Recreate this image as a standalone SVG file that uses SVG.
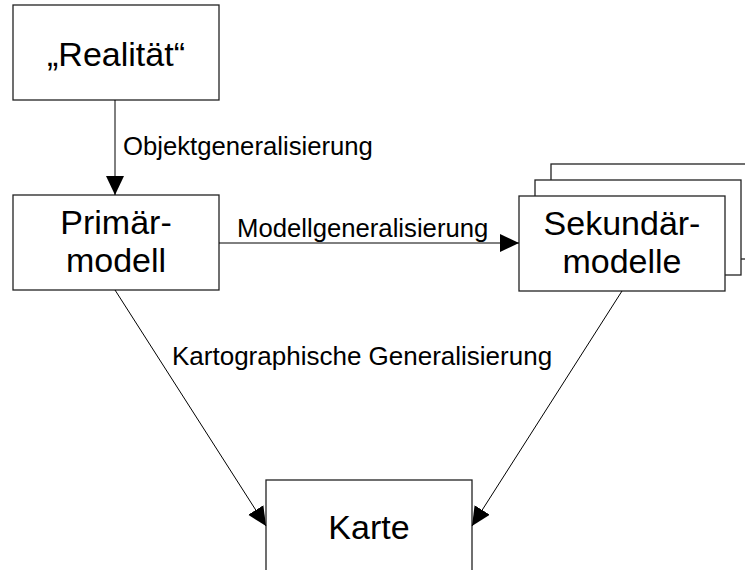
<svg xmlns="http://www.w3.org/2000/svg" width="745" height="570" viewBox="0 0 745 570">
<style>
.box{fill:#fff;stroke:#222;stroke-width:1.3}
.big{font-family:"Liberation Sans",Arial,sans-serif;font-size:34px;fill:#000;text-anchor:middle}
.lbl{font-family:"Liberation Sans",Arial,sans-serif;font-size:25.7px;fill:#000}
.con{fill:none;stroke:#000;stroke-width:1}
</style>
<defs>
<marker id="ah" markerUnits="userSpaceOnUse" markerWidth="22" markerHeight="20" refX="19" refY="9" orient="auto">
<path d="M0,0 L19,9 L0,18 Z" fill="#000"/>
</marker>
</defs>
<rect width="745" height="570" fill="#fff"/>
<g id="realitaet">
<rect class="box" x="13" y="5" width="206" height="95"/>
<text class="big" x="116" y="66">„Realität“</text>
</g>
<g id="primaermodell">
<rect class="box" x="13" y="195" width="206" height="95"/>
<text class="big" x="116" y="234">Primär-</text>
<text class="big" x="116" y="272">modell</text>
</g>
<g id="sekundaermodelle">
<rect class="box" x="551" y="164" width="206" height="95"/>
<rect class="box" x="535" y="180" width="206" height="95"/>
<rect class="box" x="519" y="196" width="206" height="95"/>
<text class="big" x="622" y="235">Sekundär-</text>
<text class="big" x="622" y="273">modelle</text>
</g>
<g id="karte">
<rect class="box" x="266" y="480" width="206" height="95"/>
<text class="big" x="369" y="539">Karte</text>
</g>
<g id="connectors">
<line class="con" x1="115" y1="100" x2="115" y2="195" marker-end="url(#ah)"/>
<line class="con" x1="219" y1="243" x2="519" y2="243" marker-end="url(#ah)"/>
<line class="con" x1="115" y1="290" x2="266" y2="526" marker-end="url(#ah)"/>
<line class="con" x1="622" y1="291" x2="472" y2="526" marker-end="url(#ah)"/>
<text class="lbl" x="123" y="155">Objektgeneralisierung</text>
<text class="lbl" x="237" y="237">Modellgeneralisierung</text>
<text class="lbl" x="172" y="365" style="font-size:26px">Kartographische Generalisierung</text>
</g>
</svg>
